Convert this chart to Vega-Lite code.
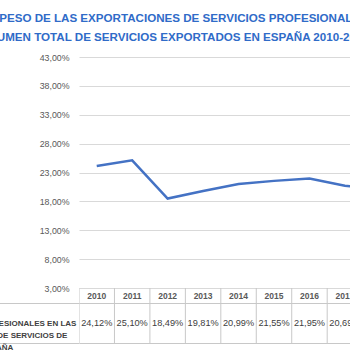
{
  "$schema": "https://vega.github.io/schema/vega-lite/v6.json",
  "padding": {"left": -84, "top": 13, "right": 0, "bottom": 0},
  "background": "white",
  "config": {
    "view": {"stroke": null},
    "font": "Liberation Sans, Arial",
    "concat": {"spacing": 0},
    "locale": {"number": {"decimal": ",", "thousands": ".", "grouping": [3], "currency": ["", " €"]}}
  },
  "bounds": "flush",
  "title": {
    "text": ["DEL PESO DE LAS EXPORTACIONES DE SERVICIOS PROFESIONALES EN EL", "VOLUMEN TOTAL DE SERVICIOS EXPORTADOS EN ESPAÑA 2010-2018"],
    "anchor": "start",
    "frame": "group",
    "dx": -106,
    "fontSize": 11.6,
    "fontWeight": "bold",
    "color": "#2f6bc8",
    "lineHeight": 19,
    "offset": 9
  },
  "datasets": {
    "d": [
      {"year": "2010", "value": 0.2412, "serie": "DE SERVICIOS PROFESIONALES EN LAS|EXPORTACIONES DE SERVICIOS DE|ESPAÑA"},
      {"year": "2011", "value": 0.2510, "serie": "DE SERVICIOS PROFESIONALES EN LAS|EXPORTACIONES DE SERVICIOS DE|ESPAÑA"},
      {"year": "2012", "value": 0.1849, "serie": "DE SERVICIOS PROFESIONALES EN LAS|EXPORTACIONES DE SERVICIOS DE|ESPAÑA"},
      {"year": "2013", "value": 0.1981, "serie": "DE SERVICIOS PROFESIONALES EN LAS|EXPORTACIONES DE SERVICIOS DE|ESPAÑA"},
      {"year": "2014", "value": 0.2099, "serie": "DE SERVICIOS PROFESIONALES EN LAS|EXPORTACIONES DE SERVICIOS DE|ESPAÑA"},
      {"year": "2015", "value": 0.2155, "serie": "DE SERVICIOS PROFESIONALES EN LAS|EXPORTACIONES DE SERVICIOS DE|ESPAÑA"},
      {"year": "2016", "value": 0.2195, "serie": "DE SERVICIOS PROFESIONALES EN LAS|EXPORTACIONES DE SERVICIOS DE|ESPAÑA"},
      {"year": "2017", "value": 0.2069, "serie": "DE SERVICIOS PROFESIONALES EN LAS|EXPORTACIONES DE SERVICIOS DE|ESPAÑA"},
      {"year": "2018", "value": 0.2030, "serie": "DE SERVICIOS PROFESIONALES EN LAS|EXPORTACIONES DE SERVICIOS DE|ESPAÑA"}
    ]
  },
  "vconcat": [
    {
      "width": 272,
      "height": 231,
      "data": {"name": "d"},
      "mark": {"type": "line", "clip": true, "color": "#4472c4", "strokeWidth": 2.5},
      "encoding": {
        "x": {"field": "year", "type": "ordinal", "bandPosition": 0.5,
              "scale": {"type": "band", "domain": ["2010","2011","2012","2013","2014","2015","2016","2017","2018"], "range": [0, 319.1], "paddingInner": 0, "paddingOuter": 0},
              "axis": null},
        "y": {"field": "value", "type": "quantitative",
              "scale": {"domain": [0.03, 0.43], "nice": false, "zero": false},
              "axis": {"values": [0.03, 0.08, 0.13, 0.18, 0.23, 0.28, 0.33, 0.38, 0.43], "format": ".2%", "title": null,
                       "domain": false, "ticks": false, "tickSize": 0, "labelPadding": 10, "labelFontSize": 8.8,
                       "labelColor": "#595959", "gridColor": "#d9d9d9", "gridWidth": 1}}
      }
    },
    {
      "width": 272,
      "height": 15,
      "data": {"name": "d"},
      "layer": [
        {
          "mark": {"type": "rule", "clip": true, "color": "#c8c8c8", "strokeWidth": 1},
          "encoding": {
            "x": {"field": "year", "type": "ordinal", "bandPosition": 0,
                  "scale": {"type": "band", "domain": ["2010","2011","2012","2013","2014","2015","2016","2017","2018"], "range": [0, 319.1], "paddingInner": 0, "paddingOuter": 0},
                  "axis": null}
          }
        },
        {
          "mark": {"type": "text", "clip": true, "fontSize": 8.5, "fontWeight": "bold", "color": "#595959", "baseline": "middle"},
          "encoding": {
            "x": {"field": "year", "type": "ordinal", "bandPosition": 0.5,
                  "scale": {"type": "band", "domain": ["2010","2011","2012","2013","2014","2015","2016","2017","2018"], "range": [0, 319.1], "paddingInner": 0, "paddingOuter": 0},
                  "axis": null},
            "text": {"field": "year"}
          }
        }
      ]
    },
    {
      "width": 272,
      "height": 40,
      "data": {"name": "d"},
      "layer": [
        {
          "mark": {"type": "rule", "clip": true, "color": "#c8c8c8", "strokeWidth": 1},
          "encoding": {
            "x": {"field": "year", "type": "ordinal", "bandPosition": 0,
                  "scale": {"type": "band", "domain": ["2010","2011","2012","2013","2014","2015","2016","2017","2018"], "range": [0, 319.1], "paddingInner": 0, "paddingOuter": 0},
                  "axis": null}
          }
        },
        {
          "mark": {"type": "text", "clip": true, "fontSize": 9.2, "color": "#404040", "baseline": "middle"},
          "encoding": {
            "x": {"field": "year", "type": "ordinal", "bandPosition": 0.5,
                  "scale": {"type": "band", "domain": ["2010","2011","2012","2013","2014","2015","2016","2017","2018"], "range": [0, 319.1], "paddingInner": 0, "paddingOuter": 0},
                  "axis": null},
            "y": {"field": "serie", "type": "nominal",
                  "scale": {"type": "band", "paddingInner": 0, "paddingOuter": 0},
                  "axis": {"title": null, "domain": false, "tickBand": "extent", "tickSize": 82.6, "tickColor": "#c8c8c8",
                           "grid": true, "gridColor": "#c8c8c8", "labelPadding": 0, "labelAlign": "center", "labelBaseline": "middle",
                           "labelExpr": "split(datum.label, '|')", "labelLineHeight": 12, "labelFontSize": 8, "labelFontWeight": "bold",
                           "labelColor": "#404040", "labelLimit": 300}},
            "text": {"field": "value", "type": "quantitative", "format": ".2%"}
          }
        }
      ]
    }
  ]
}
